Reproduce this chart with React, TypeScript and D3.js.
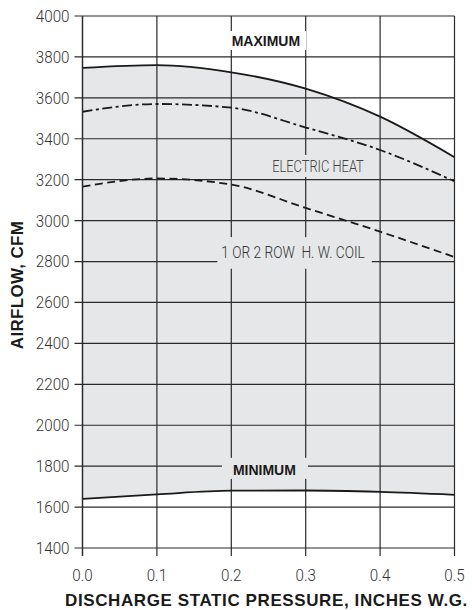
import React, { useEffect, useRef } from "react";
import * as d3 from "d3";

const pressures = [0.0, 0.1, 0.2, 0.3, 0.4, 0.5];
const maximumCfm = [3746, 3760, 3725, 3645, 3508, 3310];
const electricHeatCfm = [3532, 3570, 3552, 3455, 3345, 3192];
const hwCoilCfm = [3166, 3206, 3176, 3062, 2946, 2822];
const minimumCfm = [1640, 1662, 1680, 1681, 1674, 1660];
const yTicks = [1400, 1600, 1800, 2000, 2200, 2400, 2600, 2800, 3000, 3200, 3400, 3600, 3800, 4000];
const xTicks = [0.0, 0.1, 0.2, 0.3, 0.4, 0.5];

const W = 472;
const H = 610;
const M = { left: 82.5, right: 17.5, top: 16, bottom: 62 };
const LIGHT = "Roboto, 'Liberation Sans', Arial, sans-serif";
const BOLD = "'Liberation Sans', Arial, sans-serif";

export default function App() {
  const ref = useRef<SVGSVGElement>(null);

  useEffect(() => {
    const svg = d3.select(ref.current);
    svg.selectAll("*").remove();

    const x = d3.scaleLinear().domain([0, 0.5]).range([M.left, W - M.right]);
    const y = d3.scaleLinear().domain([1400, 4000]).range([H - M.bottom, M.top]);

    const curve = d3.curveMonotoneX;
    const idx = pressures.map((_, i) => i);

    const area = d3
      .area<number>()
      .x((i) => x(pressures[i]))
      .y0((i) => y(minimumCfm[i]))
      .y1((i) => y(maximumCfm[i]))
      .curve(curve);
    svg.append("path").attr("d", area(idx)).attr("fill", "#e6e7e8");

    const grid = svg.append("g");
    yTicks.forEach((t) => {
      grid
        .append("line")
        .attr("x1", x(0) - 8)
        .attr("x2", x(0.5))
        .attr("y1", y(t))
        .attr("y2", y(t))
        .attr("stroke", "#2a2a2a")
        .attr("stroke-width", 1.2);
    });
    xTicks.forEach((t) => {
      grid
        .append("line")
        .attr("x1", x(t))
        .attr("x2", x(t))
        .attr("y1", y(4000))
        .attr("y2", y(1400) + 8)
        .attr("stroke", "#2a2a2a")
        .attr("stroke-width", 1.2);
    });

    const labels: {
      text: string;
      px: number;
      cy: number;
      bold: boolean;
      bg: string;
      padL: number;
      padR: number;
      padT: number;
      padB: number;
      color: string;
      size: number;
      sx: number;
    }[] = [
      { text: "MAXIMUM", px: 0.2465, cy: 3878, bold: true, bg: "#ffffff", padL: 8, padR: 6, padT: 4, padB: 3, color: "#1a1a1a", size: 14, sx: 1 },
      { text: "ELECTRIC HEAT", px: 0.3165, cy: 3267, bold: false, bg: "#e6e7e8", padL: 3, padR: 3, padT: 3, padB: 3, color: "#444", size: 16.5, sx: 0.78 },
      { text: "1 OR 2 ROW  H. W. COIL", px: 0.283, cy: 2842, bold: false, bg: "#e6e7e8", padL: 4, padR: 7, padT: 8, padB: 8, color: "#333", size: 16.5, sx: 0.83 },
      { text: "MINIMUM", px: 0.2445, cy: 1782, bold: true, bg: "#e6e7e8", padL: 11, padR: 12, padT: 6, padB: 3, color: "#1a1a1a", size: 14, sx: 1 },
    ];

    const labelG = svg.append("g");
    labels.forEach((l) => {
      const cx = x(l.px);
      const cy = y(l.cy);
      const rect = labelG.append("rect").attr("fill", l.bg);
      const g = labelG.append("g").attr("transform", `translate(${cx},${cy}) scale(${l.sx},1)`);
      const t = g
        .append("text")
        .attr("x", 0)
        .attr("y", 0)
        .attr("text-anchor", "middle")
        .attr("dominant-baseline", "central")
        .attr("font-family", l.bold ? BOLD : LIGHT)
        .attr("font-weight", l.bold ? "bold" : 300)
        .attr("font-size", l.size)
        .attr("fill", l.color)
        .style("white-space", "pre")
        .text(l.text);
      const bb = (t.node() as SVGTextElement).getBBox();
      rect
        .attr("x", cx + bb.x * l.sx - l.padL)
        .attr("width", bb.width * l.sx + l.padL + l.padR)
        .attr("y", cy + bb.y + 2 - l.padT)
        .attr("height", bb.height - 4 + l.padT + l.padB);
    });

    const line = (vals: number[]) =>
      d3
        .line<number>()
        .x((i) => x(pressures[i]))
        .y((i) => y(vals[i]))
        .curve(curve)(idx);

    const curves = svg.append("g").attr("fill", "none").attr("stroke", "#1a1a1a").attr("stroke-width", 1.8);
    curves.append("path").attr("d", line(maximumCfm));
    curves.append("path").attr("d", line(minimumCfm));
    curves.append("path").attr("d", line(electricHeatCfm)).attr("stroke-dasharray", "10 3.5 3 3.5");
    curves.append("path").attr("d", line(hwCoilCfm)).attr("stroke-dasharray", "8 4.5");

    svg
      .append("line")
      .attr("x1", x(0))
      .attr("x2", x(0))
      .attr("y1", y(4000))
      .attr("y2", y(1400) + 8)
      .attr("stroke", "#2a2a2a")
      .attr("stroke-width", 1.3);

    const tickSx = 0.92;
    yTicks.forEach((t) => {
      svg
        .append("g")
        .attr("transform", `translate(${x(0) - 13},${y(t)}) scale(${tickSx},1)`)
        .append("text")
        .attr("dy", "0.36em")
        .attr("text-anchor", "end")
        .attr("font-family", LIGHT)
        .attr("font-weight", 300)
        .attr("font-size", 16.5)
        .attr("fill", "#333")
        .text(String(t));
    });
    xTicks.forEach((t) => {
      svg
        .append("g")
        .attr("transform", `translate(${x(t)},${y(1400) + 33}) scale(${tickSx},1)`)
        .append("text")
        .attr("text-anchor", "middle")
        .attr("font-family", LIGHT)
        .attr("font-weight", 300)
        .attr("font-size", 16.5)
        .attr("fill", "#333")
        .text(d3.format(".1f")(t));
    });

    svg
      .append("text")
      .attr("x", (x(0) + x(0.5)) / 2 - 2)
      .attr("y", H - 4.5)
      .attr("text-anchor", "middle")
      .attr("font-family", BOLD)
      .attr("font-weight", "bold")
      .attr("font-size", 17)
      .attr("letter-spacing", 0.6)
      .attr("fill", "#1a1a1a")
      .text("DISCHARGE STATIC PRESSURE, INCHES W.G.");

    svg
      .append("text")
      .attr("transform", `translate(${22.5},${285}) rotate(-90)`)
      .attr("text-anchor", "middle")
      .attr("font-family", BOLD)
      .attr("font-weight", "bold")
      .attr("font-size", 17)
      .attr("letter-spacing", 0.3)
      .attr("fill", "#1a1a1a")
      .text("AIRFLOW, CFM");
  }, []);

  return (
    <div style={{ position: "absolute", left: 0, top: 0 }}>
      <svg ref={ref} width={W} height={H} style={{ display: "block", background: "#fff" }} />
    </div>
  );
}
